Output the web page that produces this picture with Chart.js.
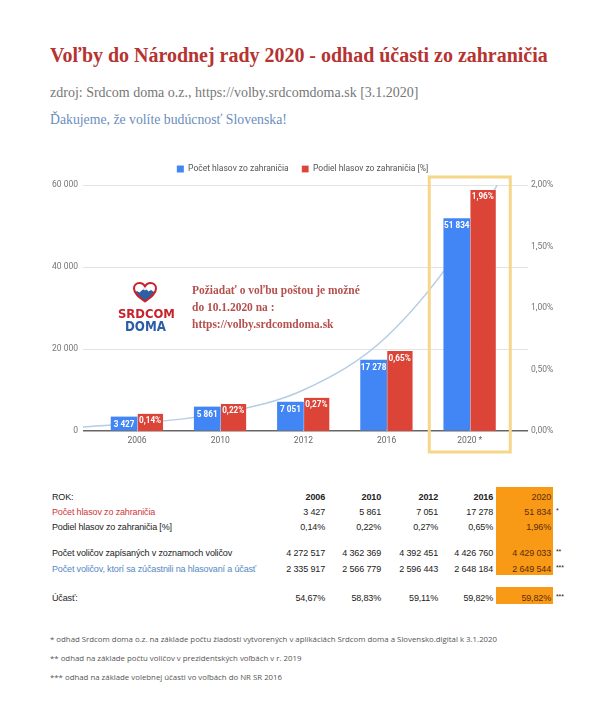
<!DOCTYPE html>
<html><head><meta charset="utf-8">
<script src="https://cdn.jsdelivr.net/npm/chart.js@4.4.1/dist/chart.umd.min.js"></script>
<style>
html,body{margin:0;padding:0;background:#fff;}
body{width:605px;height:720px;position:relative;overflow:hidden;}
.t{position:absolute;white-space:nowrap;line-height:1;left:0;top:0;}
.serif{font-family:'Liberation Serif','DejaVu Serif',serif;}
.sans{font-family:'Liberation Sans',Arial,sans-serif;font-size:9px;letter-spacing:-0.15px;color:#222;}
.foot{font-family:'Open Sans','Noto Sans',sans-serif;color:#555;font-size:8px;}
#wrap{position:absolute;left:0;top:140px;width:605px;height:320px;}
.hl{position:absolute;background:#f99a16;}
</style></head><body>
<div id="title" class="t serif" style="font-weight:bold;color:#b53331;font-size:18px;">Voľby do Národnej rady 2020 - odhad účasti zo zahraničia</div>
<div id="sub" class="t serif" style="color:#777;font-size:13px;">zdroj: Srdcom doma o.z., https://volby.srdcomdoma.sk [3.1.2020]</div>
<div id="thanks" class="t serif" style="color:#6a8ebc;font-size:13px;">Ďakujeme, že volíte budúcnosť Slovenska!</div>

<div id="wrap"><canvas id="c"></canvas></div>

<svg width="26" height="21" viewBox="0 0 52 42" style="position:absolute;left:132px;top:282px">
<defs><clipPath id="hc"><path d="M26 39 C12 29 4 22 4 13 C4 6 9 2 15 2 C20 2 24 5 26 9 C28 5 32 2 37 2 C43 2 48 6 48 13 C48 22 40 29 26 39Z"/></clipPath></defs>
<g clip-path="url(#hc)"><path d="M0 24 L10 18 L15 21 L26 11 L33 19 L38 16 L52 25 L52 42 L0 42Z" fill="#2d5fa5"/><path d="M21 16 L26 11 L31 16.5 L28 15 L26 17 L24 15Z" fill="#fff"/></g>
<path d="M26 39 C12 29 4 22 4 13 C4 6 9 2 15 2 C20 2 24 5 26 9 C28 5 32 2 37 2 C43 2 48 6 48 13 C48 22 40 29 26 39Z" fill="none" stroke="#c8232c" stroke-width="4" stroke-linejoin="round"/>
</svg>
<div id="logo1" class="t" style="font-family:'DejaVu Sans Condensed','DejaVu Sans',sans-serif;font-weight:bold;color:#c8232c;font-size:13px;">SRDCOM</div>
<div id="logo2" class="t" style="font-family:'DejaVu Sans Condensed','DejaVu Sans',sans-serif;font-weight:bold;color:#2b5ea6;font-size:13px;">DOMA</div>
<div id="ann1" class="t serif" style="font-weight:bold;color:#b4504d;font-size:11px;">Požiadať o voľbu poštou je možné</div>
<div id="ann2" class="t serif" style="font-weight:bold;color:#b4504d;font-size:11px;">do 10.1.2020 na :</div>
<div id="ann3" class="t serif" style="font-weight:bold;color:#b4504d;font-size:11px;">https://volby.srdcomdoma.sk</div>

<div id="table"></div>

<div id="f1" class="t foot">* odhad Srdcom doma o.z. na základe počtu žiadostí vytvorených v aplikáciách Srdcom doma a Slovensko.digital k 3.1.2020</div>
<div id="f2" class="t foot">** odhad na základe počtu voličov v prezidentských voľbách v r. 2019</div>
<div id="f3" class="t foot">*** odhad na základe volebnej účasti vo voľbách do NR SR 2016</div>

<script>
// ---- data ----
const categories = ['2006', '2010', '2012', '2016', '2020'];
const xTickLabels = ['2006', '2010', '2012', '2016', '2020 *'];
const votesAbroad = [3427, 5861, 7051, 17278, 51834];
const shareAbroad = [0.14, 0.22, 0.27, 0.65, 1.96];
const registered = [4272517, 4362369, 4392451, 4426760, 4429033];
const participated = [2335917, 2566779, 2596443, 2648184, 2649544];
const turnout = [54.67, 58.83, 59.11, 59.82, 59.82];
const trendX = [-0.65, 0, 1, 2, 3, 4, 4.33];
const trendY = [1000, 1900, 4300, 10000, 23000, 48000, 60000];
const seriesNames = ['Počet hlasov zo zahraničia', 'Podiel hlasov zo zahraničia [%]'];
const highlightIndex = 4;

const fmtInt = v => String(v).replace(/\B(?=(\d{3})+(?!\d))/g, ' ');
const fmtPct = (v, d = 2) => v.toFixed(d).replace('.', ',') + '%';

// ---- html text helpers ----
function baselineOffset(el){
  const m=document.createElement('span');
  m.style.cssText='display:inline-block;width:0;height:0;vertical-align:baseline;';
  el.appendChild(m);
  const b=m.getBoundingClientRect().top-el.getBoundingClientRect().top;
  el.removeChild(m); return b;
}
function fitWidth(el,w){
  const cur=el.getBoundingClientRect().width;
  const fs=parseFloat(getComputedStyle(el).fontSize);
  el.style.fontSize=(fs*w/cur)+'px';
}
function put(el,o){
  if(o.fs) el.style.fontSize=o.fs+'px';
  if(o.width) fitWidth(el,o.width);
  if(o.x!==undefined){ el.style.left=o.x+'px'; }
  if(o.right!==undefined){ el.style.left='auto'; el.style.right=(605-o.right)+'px'; }
  el.style.top='0px';
  el.style.top=(o.baseline-baselineOffset(el))+'px';
}
const $=id=>document.getElementById(id);
put($('title'),{x:50,baseline:62,width:498});
put($('sub'),{x:50,baseline:97,width:369});
put($('thanks'),{x:50,baseline:124,width:237});
put($('ann1'),{x:192,baseline:294,width:168});
const annFs=parseFloat($('ann1').style.fontSize);
put($('ann2'),{x:192,baseline:311,fs:annFs});
put($('ann3'),{x:192,baseline:328,fs:annFs});
put($('logo1'),{x:118,baseline:318,width:57});
put($('logo2'),{x:125,baseline:330.5,width:41});
put($('f1'),{x:50,baseline:642,width:448});
const fFs=parseFloat($('f1').style.fontSize);
put($('f2'),{x:50,baseline:661,fs:fFs});
put($('f3'),{x:50,baseline:680,fs:fFs});

// ---- table ----
const colRight=[325,381,438,493,551];
const tbl=$('table');
function hl(x,y,w,h){const d=document.createElement('div');d.className='hl';d.style.cssText+=`left:${x}px;top:${y}px;width:${w}px;height:${h}px;`;tbl.appendChild(d);}
hl(496,487,57,88); hl(496,587,57,17);
const rows=[
  {label:'ROK:', vals:categories, bold:true, base:499.5, star:''},
  {label:'Počet hlasov zo zahraničia', color:'#d0353b', vals:votesAbroad.map(fmtInt), base:515, star:'*'},
  {label:'Podiel hlasov zo zahraničia [%]', vals:shareAbroad.map(v=>fmtPct(v)), base:529.5, star:''},
  {label:'Počet voličov zapísaných v zoznamoch voličov', vals:registered.map(fmtInt), base:556, star:'**'},
  {label:'Počet voličov, ktorí sa zúčastnili na hlasovaní a účasť', color:'#5588c6', vals:participated.map(fmtInt), base:571.5, star:'***'},
  {label:'Účasť:', vals:turnout.map(v=>fmtPct(v)), base:600.5, star:'***'}
];
rows.forEach(r=>{
  const l=document.createElement('div'); l.className='t sans'; l.textContent=r.label;
  if(r.color) l.style.color=r.color; tbl.appendChild(l); put(l,{x:52,baseline:r.base});
  r.vals.forEach((v,i)=>{
    const c=document.createElement('div'); c.className='t sans'; c.textContent=v;
    if(r.bold && i<4) c.style.fontWeight='bold';
    if(i===highlightIndex) c.style.color='#5c2b0a';
    tbl.appendChild(c); put(c,{right:colRight[i],baseline:r.base});
  });
  if(r.star){const s=document.createElement('div'); s.className='t sans'; s.textContent=r.star; s.style.fontSize='7px'; tbl.appendChild(s); put(s,{x:556,baseline:r.base-2});}
});

// ---- chart ----
Chart.defaults.font.family = "Roboto, 'Liberation Sans', sans-serif";
const legendGap = {id:'legendGap', beforeLayout(chart){
  const lg=chart.legend;
  if(lg && !lg._gapWrapped){ const f=lg.fit; lg.fit=function(){ f.call(this); this.height+=1.75; }; lg._gapWrapped=true; }
}};
const barLabels = {id:'barLabels', afterDatasetsDraw(chart){
  const ctx=chart.ctx; ctx.save();
  ctx.font="bold 8.2px Roboto, 'Liberation Sans', sans-serif"; ctx.fillStyle='#fff';
  ctx.textAlign='center'; ctx.textBaseline='middle';
  [0,1].forEach(di=>{
    chart.getDatasetMeta(di).data.forEach((el,i)=>{
      const txt = di===0 ? fmtInt(votesAbroad[i]) : fmtPct(shareAbroad[i]);
      ctx.fillText(txt, el.x, el.y+7.5);
    });
  });
  ctx.restore();
}};
const highlightBox = {id:'highlightBox', afterDraw(chart){
  const ctx=chart.ctx, xs=chart.scales.x, ys=chart.scales.y;
  const cx=xs.getPixelForValue(highlightIndex);
  const top=ys.getPixelForValue(60000)-8, bottom=chart.chartArea.bottom+21;
  ctx.save(); ctx.strokeStyle='#f6d68a'; ctx.lineWidth=3;
  ctx.strokeRect(cx-40.5, top, 81, bottom-top); ctx.restore();
}};

new Chart(document.getElementById('c'), {
  data: {
    datasets: [
      {type:'bar', label:seriesNames[0], data:categories.map((c,i)=>({x:i,y:votesAbroad[i]})),
       backgroundColor:'#4285f4', yAxisID:'y', order:1, barThickness:26},
      {type:'bar', label:seriesNames[1], data:categories.map((c,i)=>({x:i,y:shareAbroad[i]})),
       backgroundColor:'#db4437', borderColor:'#ffffff', borderWidth:{left:1,top:0,right:0,bottom:0},
       yAxisID:'y1', order:2, barThickness:26},
      {type:'line', label:'trend', data:trendX.map((x,i)=>({x, y:trendY[i]})),
       borderColor:'#b7cce6', borderWidth:1.5, pointRadius:0, cubicInterpolationMode:'monotone',
       yAxisID:'y', order:3}
    ]
  },
  options: {
    responsive:true, maintainAspectRatio:false, animation:false,
    layout:{padding:{top:11.75,left:0,right:0,bottom:0}},
    plugins:{
      legend:{position:'top', labels:{boxWidth:7, boxHeight:7, padding:13, color:'#555',
        font:{size:8.5}, filter:item=>item.datasetIndex<2}},
      tooltip:{enabled:false}
    },
    scales:{
      x:{type:'linear', min:-0.65, max:4.7, offset:false,
         ticks:{stepSize:1, includeBounds:false, autoSkip:false, maxRotation:0, padding:5,
           color:'#666', font:{size:8.5},
           callback:v=> (Number.isInteger(v) && xTickLabels[v]!==undefined) ? xTickLabels[v] : ''},
         grid:{display:false, drawTicks:false, offset:false}, border:{display:false},
         afterFit:s=>{s.height=29;}},
      y:{position:'left', min:0, max:60000,
         ticks:{stepSize:20000, padding:5, color:'#757575', font:{size:8.5}, callback:v=>fmtInt(v)},
         grid:{drawTicks:false, color:c=>c.tick.value===0?'#666':'#e3e3e3', lineWidth:c=>c.tick.value===0?1.6:1},
         border:{display:false}, afterFit:s=>{s.width=83;}},
      y1:{position:'right', min:0, max:2,
         ticks:{stepSize:0.5, padding:3, color:'#757575', font:{size:8.5}, callback:v=>fmtPct(v)},
         grid:{display:false, drawTicks:false}, border:{display:false}, afterFit:s=>{s.width=77;}}
    }
  },
  plugins:[legendGap, barLabels, highlightBox]
});
</script>
</body></html>
